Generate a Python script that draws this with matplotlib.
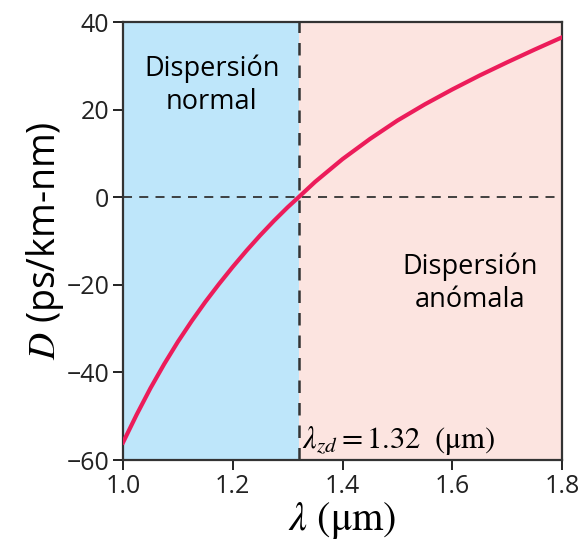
import matplotlib.pyplot as plt

plt.rcParams["mathtext.fontset"] = "stix"
plt.rcParams["font.family"] = ["Open Sans", "DejaVu Sans"]

# ===============================
# Data
# ===============================
wavelength = [1.00, 1.025, 1.05, 1.075, 1.10, 1.125, 1.15, 1.175, 1.20, 1.225,
              1.25, 1.275, 1.30, 1.32, 1.35, 1.40, 1.45, 1.50, 1.55, 1.60,
              1.65, 1.70, 1.75, 1.80]
dispersion = [-56.0, -49.6, -43.6, -38.1, -33.0, -28.3, -23.9, -19.8, -15.9, -12.2,
              -8.7, -5.4, -2.3, 0.0, 3.5, 8.7, 13.3, 17.5, 21.2, 24.6,
              27.8, 30.8, 33.7, 36.5]
lambda_zd = 1.32
x_range = (1.0, 1.8)
y_range = (-60, 40)
x_ticks = [1.0, 1.2, 1.4, 1.6, 1.8]
y_ticks = [-60, -40, -20, 0, 20, 40]

# ===============================
# Figure
# ===============================
fig = plt.figure(figsize=(5.85, 5.46), dpi=100)
ax = fig.add_axes([0.2103, 0.1575, 0.7504, 0.8022])

ax.axvspan(x_range[0], lambda_zd, color="#bee6fa", lw=0, zorder=0)
ax.axvspan(lambda_zd, x_range[1], color="#fce4e0", lw=0, zorder=0)

ax.axhline(0, color="#333333", lw=1.3, ls=(0, (5, 4)), zorder=1)
ax.axvline(lambda_zd, color="#333333", lw=1.8, ls=(0, (5, 4)), zorder=1)

ax.plot(wavelength, dispersion, color="#ec1c5a", lw=3, zorder=3)

ax.set_xlim(*x_range)
ax.set_ylim(*y_range)
ax.set_xticks(x_ticks)
ax.set_yticks(y_ticks)
ax.set_xticklabels([f"{t:.1f}" for t in x_ticks])
ax.set_yticklabels([f"{t}".replace("-", "\u2212") for t in y_ticks])
ax.tick_params(direction="out", length=7, width=1.4, labelsize=18,
               colors="#222222", pad=3)
for sp in ax.spines.values():
    sp.set_linewidth(1.6)
    sp.set_color("#333333")

ax.set_xlabel(r"$\lambda\ (\mathrm{\mu m})$", fontsize=29, labelpad=1)
ax.set_ylabel(r"$D$ (ps/km-nm)", fontsize=27, labelpad=0)

ax.text(1.162, 25.6, "Dispersión\nnormal", ha="center", va="center",
        fontsize=19.5, linespacing=1.25)
ax.text(1.632, -19.6, "Dispersión\nanómala", ha="center", va="center",
        fontsize=19.5, linespacing=1.25)
ax.text(1.327, -55.5, r"$\lambda_{zd} = 1.32\ \ (\mathrm{\mu m})$",
        ha="left", va="center", fontsize=22)

fig.savefig("out.png", dpi=100)
